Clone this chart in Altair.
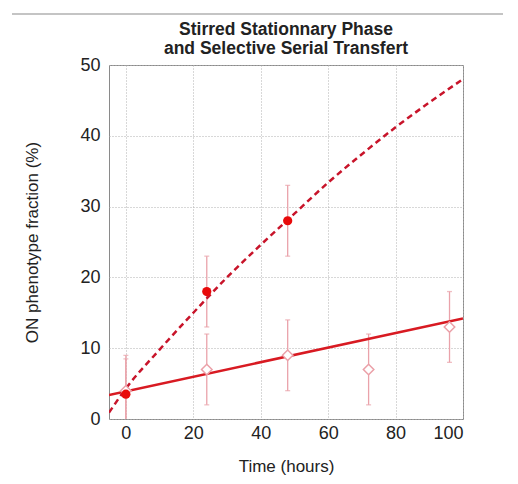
import altair as alt
import pandas as pd

# --- data ---
title_lines = ["Stirred Stationnary Phase", "and Selective Serial Transfert"]

stirred_t = [0, 24, 48]
stirred_v = [3.5, 18, 28]
stirred_lo = [-1.5, 13, 23]
stirred_hi = [8.5, 23, 33]

serial_t = [0, 24, 48, 72, 96]
serial_v = [4, 7, 9, 7, 13]
serial_lo = [-1, 2, 4, 2, 8]
serial_hi = [9, 12, 14, 12, 18]

fit_t = [-5, 100]
fit_v = [3.4, 14.2]

curve_t = [-5, 0, 10, 20, 30, 40, 50, 60, 70, 80, 90, 100]
curve_v = [0.9, 4.3, 9.8, 15.0, 20.0, 24.6, 29.0, 33.4, 37.4, 41.2, 44.7, 48.0]

x_ticks = [0, 20, 40, 60, 80, 100]
y_ticks = [0, 10, 20, 30, 40, 50]

FONT = "Liberation Sans"

stirred = pd.DataFrame({"t": stirred_t, "v": stirred_v, "lo": stirred_lo, "hi": stirred_hi})
serial = pd.DataFrame({"t": serial_t, "v": serial_v, "lo": serial_lo, "hi": serial_hi})
fit = pd.DataFrame({"t": fit_t, "v": fit_v})
curve = pd.DataFrame({"t": curve_t, "v": curve_v})

xs = alt.Scale(domain=[-5, 100], nice=False, zero=False)
ys = alt.Scale(domain=[0, 50], nice=False)

X = alt.X("t:Q", scale=xs, axis=alt.Axis(values=x_ticks, title="Time (hours)"))
Y = alt.Y("v:Q", scale=ys, axis=alt.Axis(values=y_ticks, title="ON phenotype fraction (%)"))

ERR = "#eaa2aa"

def errbars(df):
    rule = alt.Chart(df).mark_rule(color=ERR, strokeWidth=1.3, clip=True).encode(
        x=alt.X("t:Q", scale=xs), y=alt.Y("lo:Q", scale=ys), y2="hi:Q")
    cap_hi = alt.Chart(df).mark_tick(color=ERR, orient="horizontal", size=5, thickness=1.3, clip=True).encode(
        x=alt.X("t:Q", scale=xs), y=alt.Y("hi:Q", scale=ys))
    cap_lo = alt.Chart(df).mark_tick(color=ERR, orient="horizontal", size=5, thickness=1.3, clip=True).encode(
        x=alt.X("t:Q", scale=xs), y=alt.Y("lo:Q", scale=ys))
    return rule + cap_hi + cap_lo

serial_pts = alt.Chart(serial).mark_point(shape="diamond", filled=True, fill="white",
                                          stroke="#eba0a8", strokeWidth=1.5, size=110, opacity=1).encode(x=X, y=Y)
stirred_pts = alt.Chart(stirred).mark_circle(color="#e80a0a", size=85, opacity=1).encode(x=X, y=Y)

fit_line = alt.Chart(fit).mark_line(color="#d81a22", strokeWidth=2.5, clip=True).encode(x=X, y=Y)
curve_line = alt.Chart(curve).mark_line(color="#c8142a", strokeWidth=2.5, strokeDash=[6, 4],
                                        interpolate="monotone", clip=True).encode(x=X, y=Y)

top_line = alt.Chart(fit).mark_rule(color="#c0c0c0", strokeWidth=1.5).encode(
    x=alt.value(-97), x2=alt.value(430), y=alt.value(-51))

title1 = alt.Chart(fit).transform_filter("datum.t < 0").mark_text(
    text=title_lines[0], font=FONT, fontSize=17.5, fontWeight="bold", color="#222222",
    align="center", baseline="middle").encode(x=alt.value(177), y=alt.value(-35))
title2 = alt.Chart(fit).transform_filter("datum.t < 0").mark_text(
    text=title_lines[1], font=FONT, fontSize=17.5, fontWeight="bold", color="#222222",
    align="center", baseline="middle").encode(x=alt.value(177), y=alt.value(-16))

chart = alt.layer(
    top_line, title1, title2,
    errbars(serial), errbars(stirred),
    fit_line, curve_line,
    serial_pts, stirred_pts,
).properties(
    width=354, height=354,
    autosize=alt.AutoSizeParams(type="none"),
    padding={"left": 101, "top": 57, "right": 40, "bottom": 62},
).configure_view(
    stroke="#8a8a8a", strokeWidth=1
).configure_axis(
    grid=True, gridColor="#b0b0b0", gridDash=[1, 2], gridWidth=1,
    domain=False, ticks=False,
    labelFont=FONT, labelFontSize=18, labelColor="#222222",
    titleFont=FONT, titleFontSize=17, titleColor="#222222", titleFontWeight="normal",
).configure_axisX(
    labelPadding=5, titlePadding=16,
).configure_axisY(
    labelPadding=9, titlePadding=38,
)

chart.save("out.html", embed_options={"renderer": "svg", "actions": False})
